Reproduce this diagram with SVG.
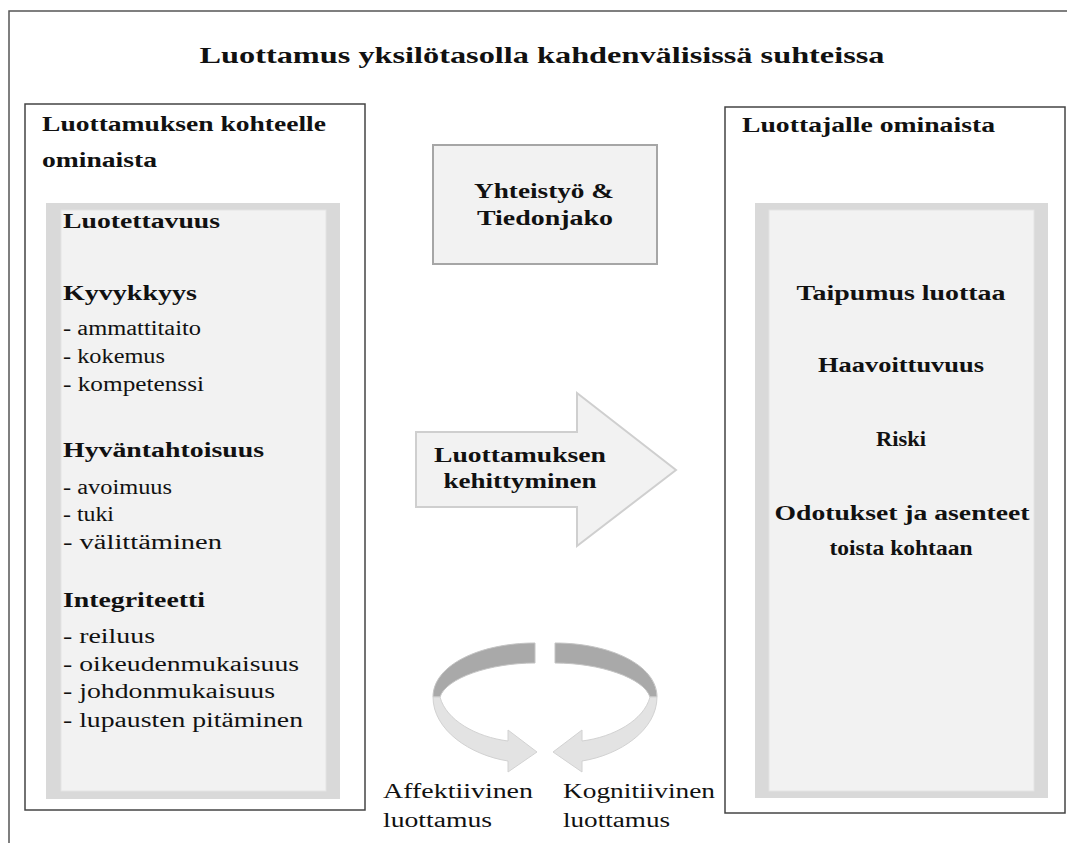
<svg xmlns="http://www.w3.org/2000/svg" width="1067" height="843" viewBox="0 0 1067 843">
<style>
text{font-family:"Liberation Serif","Times New Roman",serif;fill:#111}
.b{font-weight:bold;font-size:20px}
.r{font-size:20px}
.t{font-weight:bold;font-size:24px}
.box{fill:#fff;stroke:#444;stroke-width:1.5}
.outer{fill:#d9d9d9}
.inner{fill:#f2f2f2;stroke:#e4e4e4;stroke-width:1}
.mid{text-anchor:middle}
</style>
<rect width="1067" height="843" fill="#fff"/>
<g id="frame">
<path d="M9,843 L9,11 L1070,11" fill="none" stroke="#555" stroke-width="1.5"/>
</g>
<g id="title">
<text class="t" x="542" y="63" text-anchor="middle" textLength="685" lengthAdjust="spacingAndGlyphs">Luottamus yksilötasolla kahdenvälisissä suhteissa</text>
</g>
<g id="left-box">
<rect class="box" x="25" y="104" width="340" height="706"/>
<text class="b" x="42" y="131" textLength="284" lengthAdjust="spacingAndGlyphs">Luottamuksen kohteelle</text>
<text class="b" x="42" y="167" textLength="115" lengthAdjust="spacingAndGlyphs">ominaista</text>
<rect class="outer" x="46" y="203" width="294" height="596"/>
<rect class="inner" x="61" y="210" width="265" height="581"/>
<text class="b" x="63" y="228" textLength="157" lengthAdjust="spacingAndGlyphs">Luotettavuus</text>
<text class="b" x="63" y="300" textLength="134" lengthAdjust="spacingAndGlyphs">Kyvykkyys</text>
<text class="r" x="63" y="335" textLength="138" lengthAdjust="spacingAndGlyphs">- ammattitaito</text>
<text class="r" x="63" y="363" textLength="102" lengthAdjust="spacingAndGlyphs">- kokemus</text>
<text class="r" x="63" y="391" textLength="141" lengthAdjust="spacingAndGlyphs">- kompetenssi</text>
<text class="b" x="63" y="457" textLength="201" lengthAdjust="spacingAndGlyphs">Hyväntahtoisuus</text>
<text class="r" x="63" y="494" textLength="109" lengthAdjust="spacingAndGlyphs">- avoimuus</text>
<text class="r" x="63" y="521" textLength="51" lengthAdjust="spacingAndGlyphs">- tuki</text>
<text class="r" x="63" y="549" textLength="159" lengthAdjust="spacingAndGlyphs">- välittäminen</text>
<text class="b" x="63" y="607" textLength="142" lengthAdjust="spacingAndGlyphs">Integriteetti</text>
<text class="r" x="63" y="643" textLength="92" lengthAdjust="spacingAndGlyphs">- reiluus</text>
<text class="r" x="63" y="671" textLength="236" lengthAdjust="spacingAndGlyphs">- oikeudenmukaisuus</text>
<text class="r" x="63" y="698" textLength="212" lengthAdjust="spacingAndGlyphs">- johdonmukaisuus</text>
<text class="r" x="63" y="727" textLength="240" lengthAdjust="spacingAndGlyphs">- lupausten pitäminen</text>
</g>
<g id="right-box">
<rect class="box" x="725" y="107" width="340" height="706"/>
<text class="b" x="742" y="132" textLength="253" lengthAdjust="spacingAndGlyphs">Luottajalle ominaista</text>
<rect class="outer" x="755" y="203" width="293" height="595"/>
<rect class="inner" x="769" y="210" width="265" height="581"/>
<text class="b mid" x="901" y="300" textLength="209" lengthAdjust="spacingAndGlyphs">Taipumus luottaa</text>
<text class="b mid" x="901" y="372" textLength="166" lengthAdjust="spacingAndGlyphs">Haavoittuvuus</text>
<text class="b mid" x="901" y="446" textLength="50" lengthAdjust="spacingAndGlyphs">Riski</text>
<text class="b mid" x="902" y="520" textLength="255" lengthAdjust="spacingAndGlyphs">Odotukset ja asenteet</text>
<text class="b mid" x="901" y="555" textLength="143" lengthAdjust="spacingAndGlyphs">toista kohtaan</text>
</g>
<g id="cooperation">
<rect x="433" y="145" width="224" height="119" fill="#f2f2f2" stroke="#a6a6a6" stroke-width="2"/>
<text class="b mid" x="544" y="198" textLength="140" lengthAdjust="spacingAndGlyphs">Yhteistyö &amp;</text>
<text class="b mid" x="545" y="225" textLength="136" lengthAdjust="spacingAndGlyphs">Tiedonjako</text>
</g>
<g id="connectors">
<g id="development-arrow">
<path d="M416,432 L577,432 L577,393 L676,470 L577,546 L577,507 L416,507 Z" fill="#f2f2f2" stroke="#cfcfcf" stroke-width="2" stroke-linejoin="miter"/>
<text class="b mid" x="520" y="462" textLength="172" lengthAdjust="spacingAndGlyphs">Luottamuksen</text>
<text class="b mid" x="520" y="488" textLength="153" lengthAdjust="spacingAndGlyphs">kehittyminen</text>
</g>
<g id="cycle-arrows">
<path d="M535,643 C480,643 433,665 433,697 L440,697 C446,678 490,663 535,663 Z" fill="#a9a9a9" stroke="#c4c4c4" stroke-width="1"/>
<path d="M433,697 C433,730 470,755 508,761 L508,772 L537,752 L508,730 L508,741 C476,737 446,720 440,697 Z" fill="#e3e3e3" stroke="#d2d2d2" stroke-width="1"/>
<path d="M555,643 C610,643 657,665 657,697 L650,697 C644,678 600,663 555,663 Z" fill="#a9a9a9" stroke="#c4c4c4" stroke-width="1"/>
<path d="M657,697 C657,730 620,755 582,761 L582,772 L553,752 L582,730 L582,741 C614,737 644,720 650,697 Z" fill="#e3e3e3" stroke="#d2d2d2" stroke-width="1"/>
</g>
</g>
<g id="cycle-labels">
<text class="r" x="383" y="798" textLength="150" lengthAdjust="spacingAndGlyphs">Affektiivinen</text>
<text class="r" x="383" y="827" textLength="109" lengthAdjust="spacingAndGlyphs">luottamus</text>
<text class="r" x="563" y="798" textLength="152" lengthAdjust="spacingAndGlyphs">Kognitiivinen</text>
<text class="r" x="563" y="827" textLength="107" lengthAdjust="spacingAndGlyphs">luottamus</text>
</g>
</svg>
